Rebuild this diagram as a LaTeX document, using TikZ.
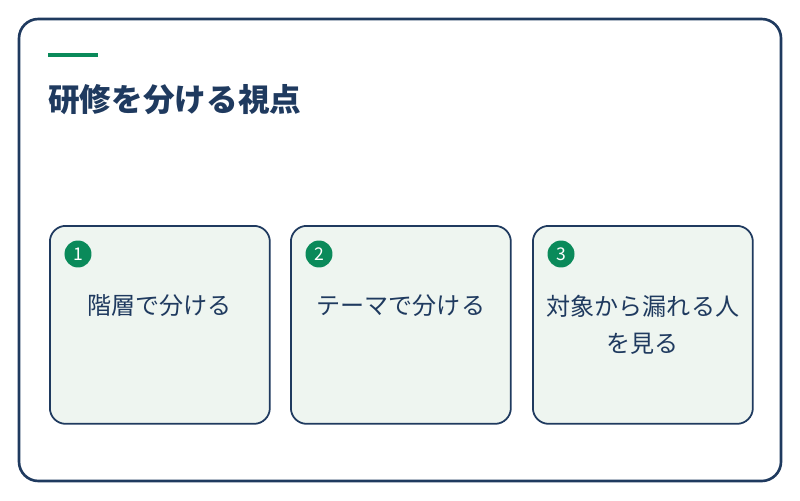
\documentclass[tikz,border=0pt]{standalone}
\usepackage{fontspec}
\setmainfont{Noto Sans CJK JP}
\usetikzlibrary{positioning}
\definecolor{navy}{HTML}{1F3A5F}
\definecolor{leaf}{HTML}{0A8A5A}
\definecolor{mint}{HTML}{EEF5F0}
\tikzset{
  card/.style={draw=navy, line width=1pt, fill=mint, rounded corners=9pt,
    minimum width=4.4cm, minimum height=3.96cm, anchor=north west},
  badge/.style={circle, fill=leaf, text=white, minimum size=0.54cm, inner sep=0pt,
    font=\fontsize{10}{10}\selectfont},
  label/.style={text=navy, align=center, font=\fontsize{13.7}{21}\selectfont}
}
\begin{document}
\begin{tikzpicture}[x=0.02cm,y=-0.02cm]
\useasboundingbox (0,0) rectangle (800,500);
\draw[navy, line width=1.5pt, rounded corners=11pt, fill=white] (19,19) rectangle (781,481);
\draw[leaf, line width=2.3pt] (48,55) -- (98,55);
\node[anchor=west, text=navy, inner sep=0pt, font=\fontsize{18}{18}\selectfont\bfseries] (title) at (48,100) {研修を分ける視点};
% cards
\node[card] (c1) at (49,225) {};
\node[card] (c2) at (290,225) {};
\node[card] (c3) at (532,225) {};
\foreach \n/\t in {1/{階層で分ける}, 2/{テーマで分ける}} {
  \node[badge] (b\n) at ([xshift=0.58cm,yshift=-0.58cm]c\n.north west) {\n};
  \node[label] (t\n) at ([yshift=-1.62cm]c\n.north) {\t};
}
\node[badge] (b3) at ([xshift=0.58cm,yshift=-0.58cm]c3.north west) {3};
\node[label] (t3) at ([yshift=-1.99cm]c3.north) {対象から漏れる人\\を見る};
\end{tikzpicture}
\end{document}
